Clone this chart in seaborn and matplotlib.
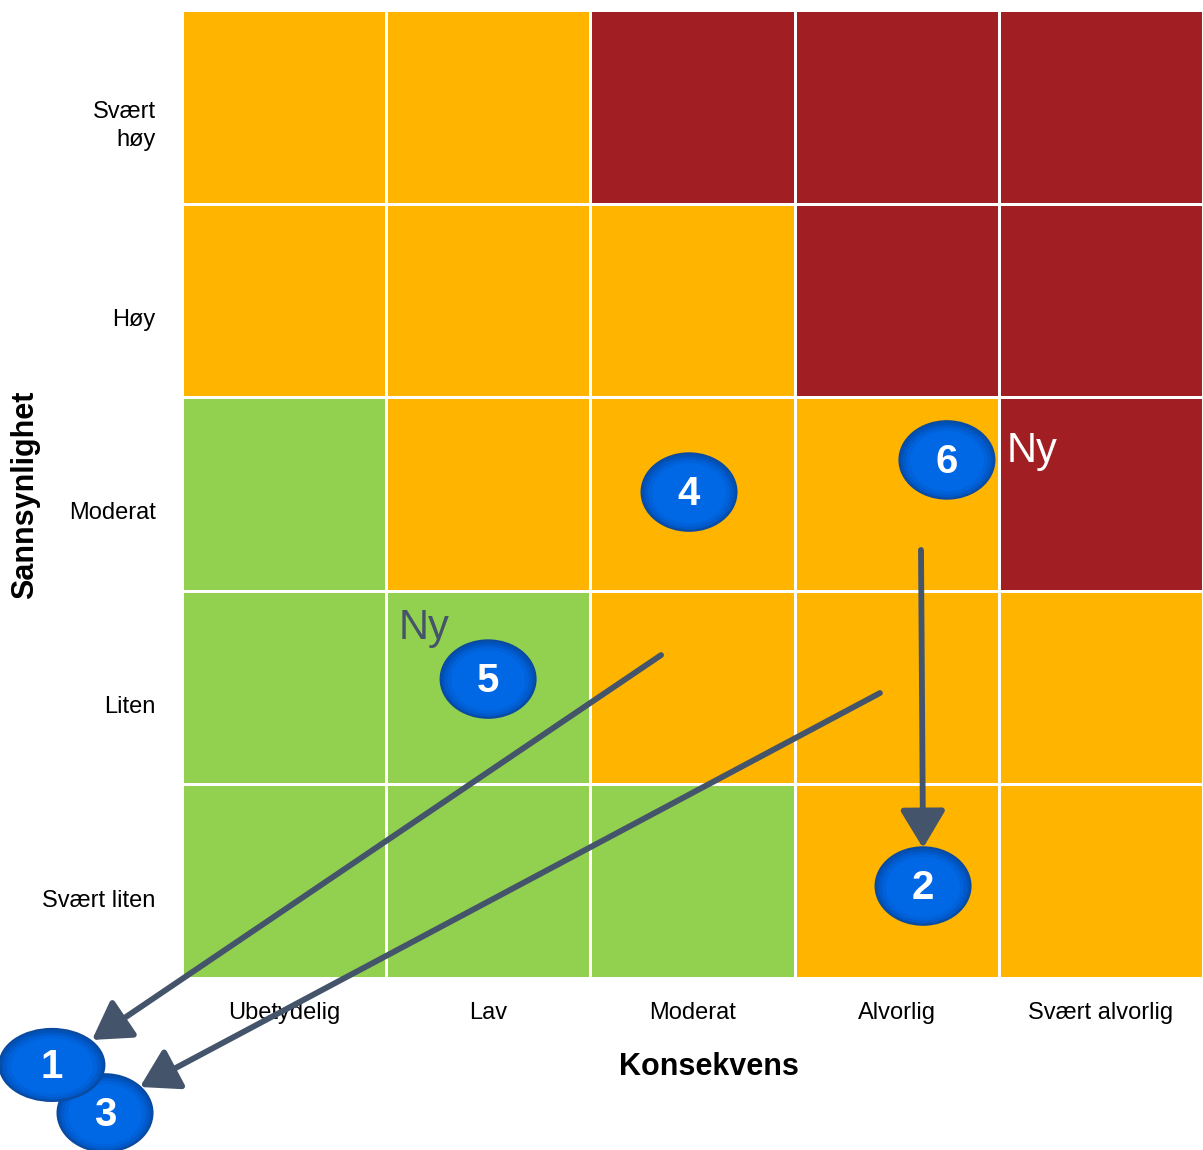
import matplotlib
matplotlib.use("Agg")
import matplotlib.pyplot as plt
from matplotlib.colors import ListedColormap
from matplotlib.patches import Ellipse
import seaborn as sns
import numpy as np
import pandas as pd

sns.set_theme(style="white")
plt.rcParams['font.family'] = ['Liberation Sans', 'DejaVu Sans']

# ---- data ----
consequence = ["Ubetydelig", "Lav", "Moderat", "Alvorlig", "Svært alvorlig"]
likelihood = ["Svært\nhøy", "Høy", "Moderat", "Liten", "Svært liten"]
# 0 = low (green), 1 = medium (orange), 2 = high (red)
risk_levels = [
    [1, 1, 2, 2, 2],
    [1, 1, 1, 2, 2],
    [0, 1, 1, 1, 2],
    [0, 0, 1, 1, 1],
    [0, 0, 0, 1, 1],
]
# risk markers (position in matrix units; col from left, row from top)
risk_ids = ["3", "1", "2", "4", "5", "6"]
risk_col = [-0.377, -0.637, 3.629, 2.483, 1.499, 3.746]
risk_row = [5.697, 5.449, 4.525, 2.490, 3.456, 2.324]
# movement arrows (start -> end)
arrow_start_col = [2.346, 3.418, 3.619]
arrow_start_row = [3.332, 3.528, 2.789]
arrow_end_col = [-0.441, -0.206, 3.629]
arrow_end_row = [5.320, 5.563, 4.329]
# "Ny" (new) labels
new_col = [4.04, 1.06]
new_row = [2.28, 3.19]
new_color = ["white", "#44546A"]

GREEN = "#92D050"
ORANGE = "#FFB400"
RED = "#A11F23"
ARROW = "#44546A"

df = pd.DataFrame(risk_levels, index=likelihood, columns=consequence)

fig = plt.figure(figsize=(12.03, 11.5), dpi=100)
ax = fig.add_axes([182/1203, 1-978/1150, 1-182/1203, 968/1150])

sns.heatmap(df, ax=ax, cmap=ListedColormap([GREEN, ORANGE, RED]),
            vmin=-0.5, vmax=2.5, cbar=False, linewidths=2, linecolor="white",
            square=False)

ax.set_xticks(np.arange(len(consequence)) + 0.5)
ax.set_xticklabels(consequence, fontsize=17, color="black")
ax.set_yticks(np.arange(len(likelihood)) + 0.6)
ax.set_yticklabels(likelihood, fontsize=17, color="black", rotation=0,
                   ha="right", multialignment="right", linespacing=1.35)
ax.tick_params(axis="x", length=0, pad=17)
ax.tick_params(axis="y", length=0, pad=19)
ax.set_xlabel("")
ax.set_ylabel("")
fig.text(709/1203, 1-1067/1150, "Konsekvens", fontsize=22, fontweight="bold",
         ha="center", va="center", color="black")
fig.text(25/1203, 1-495/1150, "Sannsynlighet", rotation=90, fontsize=22,
         fontweight="bold", ha="center", va="center", color="black")
for s in ax.spines.values():
    s.set_visible(False)

# arrows
for sx, sy, ex, ey in zip(arrow_start_col, arrow_start_row, arrow_end_col, arrow_end_row):
    ax.annotate("", xy=(ex, ey), xytext=(sx, sy), xycoords="data",
                annotation_clip=False,
                arrowprops=dict(arrowstyle="-|>,head_length=1.0,head_width=0.6",
                                mutation_scale=23, color=ARROW, lw=4.2,
                                shrinkA=0, shrinkB=0),
                zorder=5)

# risk ellipses
for k, (rid, cx, cy) in enumerate(zip(risk_ids, risk_col, risk_row)):
    w = 0.514 if rid == "1" else 0.465
    h = 0.372 if rid == "1" else 0.400
    z = 10 + k
    ax.add_patch(Ellipse((cx, cy), w, h, facecolor="#0052B8", edgecolor="#0A4AA0",
                         lw=1.5, clip_on=False, zorder=z))
    for f, col in [(0.93, "#005ACB"), (0.86, "#0062DA"), (0.78, "#0068E4")]:
        ax.add_patch(Ellipse((cx, cy + 0.006), w * f, h * f, facecolor=col,
                             edgecolor="none", clip_on=False, zorder=z))
    ax.text(cx, cy + 0.01, rid, color="white", fontsize=29, fontweight="bold",
            ha="center", va="center", zorder=z, clip_on=False)

for nx, ny, nc in zip(new_col, new_row, new_color):
    ax.text(nx, ny, "Ny", color=nc, fontsize=30, ha="left", va="center", zorder=9)

fig.savefig("out.png", dpi=100)
